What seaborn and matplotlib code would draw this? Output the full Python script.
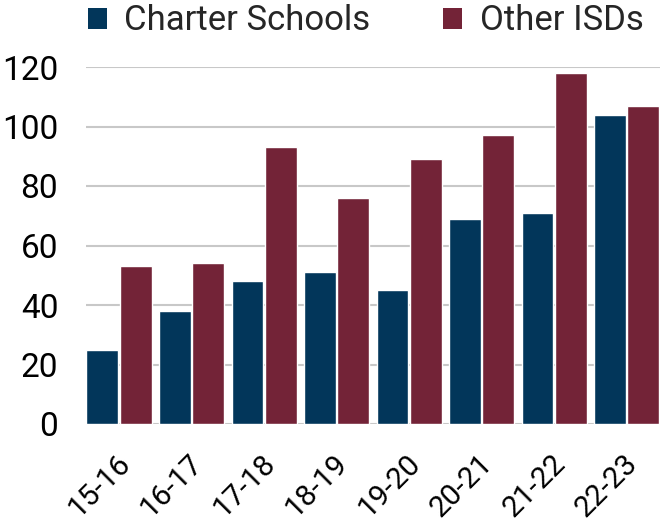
import matplotlib
matplotlib.use("Agg")
import matplotlib.pyplot as plt
import matplotlib.transforms as mtransforms
import seaborn as sns
import pandas as pd
from matplotlib.patches import Patch

years = ["15-16", "16-17", "17-18", "18-19", "19-20", "20-21", "21-22", "22-23"]
charter = [25, 38, 48, 51, 45, 69, 71, 104]
other = [53, 54, 93, 76, 89, 97, 118, 107]
series = ["Charter Schools", "Other ISDs"]
colors = ["#02365a", "#732337"]

df = pd.DataFrame({
    "year": years * 2,
    "value": charter + other,
    "series": [series[0]] * len(years) + [series[1]] * len(years),
})

sns.set_theme(style="white")
plt.rcParams["font.family"] = ["Roboto", "DejaVu Sans"]

fig = plt.figure(figsize=(6.6, 5.22), dpi=100)
ax = fig.add_axes([86 / 660, 1 - 424 / 522, 1 - 86 / 660, (424 - 67) / 522])

sns.barplot(data=df, x="year", y="value", hue="series", palette=colors,
            width=0.92, gap=0.05, ax=ax, legend=False, saturation=1)

ax.set_ylim(0, 120)
ax.set_xlim(-0.455, 7.46)
ax.set_yticks(range(0, 121, 20))
ax.yaxis.grid(True, color="#c8c8c8", linewidth=1.5)
ax.set_axisbelow(True)
for s in ax.spines.values():
    s.set_visible(False)
ax.set_xlabel("")
ax.set_ylabel("")
ax.tick_params(axis="y", labelsize=24, length=0, pad=20, colors="black")
ax.tick_params(axis="x", labelsize=21.5, length=0, pad=25, colors="black")
offset = mtransforms.ScaledTranslation(7 / 100, 0, fig.dpi_scale_trans)
for lbl in ax.get_xticklabels():
    lbl.set_rotation(45)
    lbl.set_ha("right")
    lbl.set_va("center")
    lbl.set_rotation_mode("anchor")
    lbl.set_transform(lbl.get_transform() + offset)

handles = [Patch(facecolor=c, edgecolor="none") for c in colors]
fig.legend(handles, series, loc="center", bbox_to_anchor=(0.554, 1 - 21 / 522),
           ncol=2, frameon=False, fontsize=25, handlelength=0.55, handleheight=0.55,
           handletextpad=0.5, columnspacing=2.1, borderpad=0, borderaxespad=0)

fig.savefig("out.png", dpi=100)
